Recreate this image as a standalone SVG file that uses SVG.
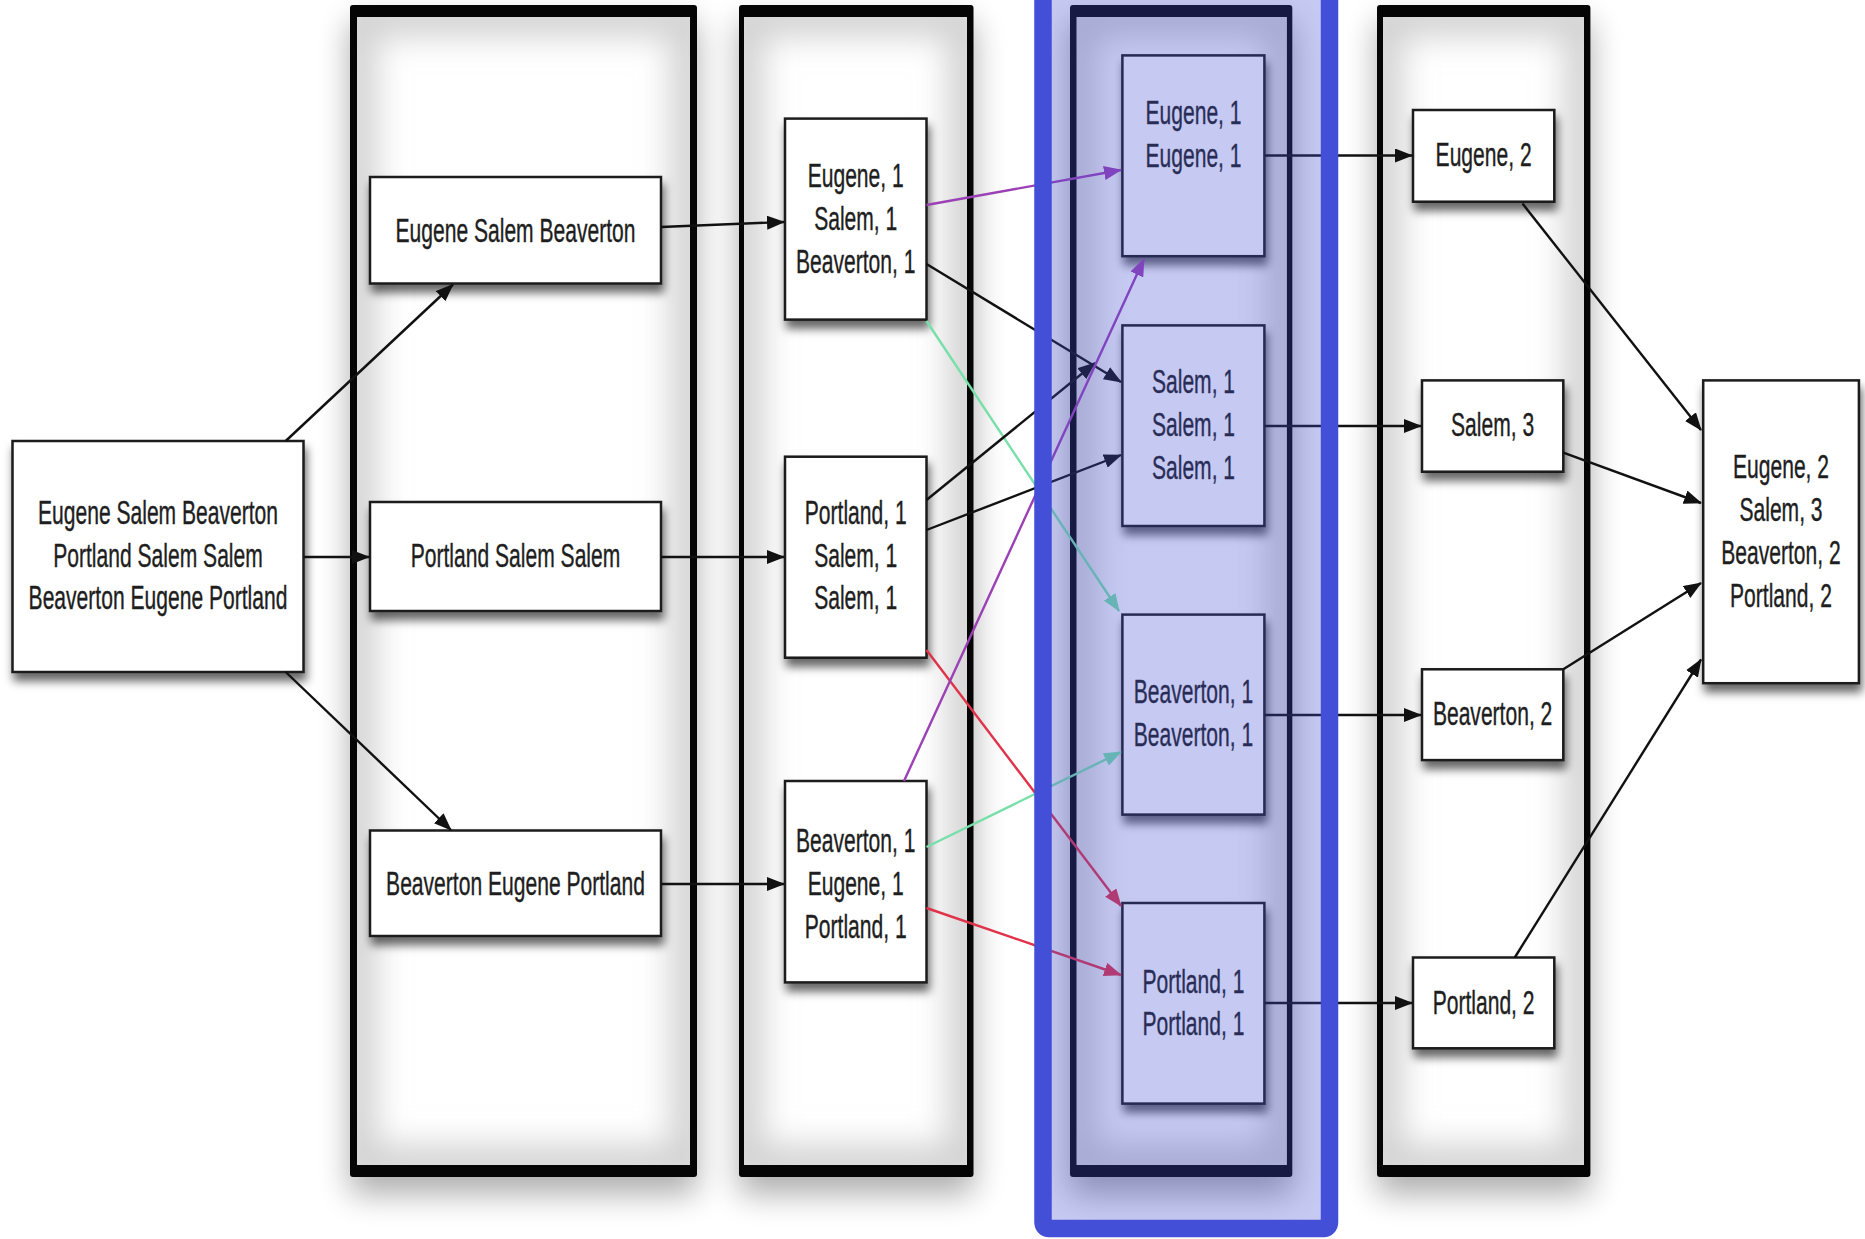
<svg xmlns="http://www.w3.org/2000/svg" width="1865" height="1239" viewBox="0 0 1865 1239">
<defs>
<style>
.box{fill:#fff;stroke:#1a1a1a;stroke-width:2.5}
.t{font-family:"Liberation Sans",Arial,sans-serif;font-size:34px;fill:#1e1e1e;stroke:#1e1e1e;stroke-width:0.4;text-anchor:middle}
.frame{fill:#050505}
.inner{fill:#fff}
.vig{fill:none;stroke:#d2d2d2;stroke-width:40}
.csh{fill:#000;opacity:0.32}
.c{fill:none;stroke:#111;stroke-width:2.4}
.cp{stroke:#9b40b5}
.cg{stroke:#78dfa8}
.cr{stroke:#e0334a}
</style>
<filter id="ns" x="-20%" y="-20%" width="140%" height="160%"><feDropShadow dx="2" dy="8" stdDeviation="5" flood-color="#000" flood-opacity="0.6"/></filter>
<filter id="cs" x="-40%" y="-10%" width="180%" height="130%"><feGaussianBlur stdDeviation="16"/></filter>
<filter id="vg" x="-20%" y="-10%" width="140%" height="120%"><feGaussianBlur stdDeviation="16"/></filter>
<clipPath id="k1"><rect x="357" y="17" width="333" height="1148"/></clipPath>
<clipPath id="k2"><rect x="744" y="17" width="223" height="1148"/></clipPath>
<clipPath id="k3"><rect x="1076.7" y="17" width="210" height="1148"/></clipPath>
<clipPath id="k4"><rect x="1383" y="17" width="201" height="1148"/></clipPath>
<marker id="ak" viewBox="0 0 18 14" refX="17" refY="7" markerWidth="18" markerHeight="14" markerUnits="userSpaceOnUse" orient="auto"><path d="M0,0 L18,7 L0,14 z" fill="#111"/></marker>
<marker id="ap" viewBox="0 0 18 14" refX="17" refY="7" markerWidth="18" markerHeight="14" markerUnits="userSpaceOnUse" orient="auto"><path d="M0,0 L18,7 L0,14 z" fill="#9b40b5"/></marker>
<marker id="ag" viewBox="0 0 18 14" refX="17" refY="7" markerWidth="18" markerHeight="14" markerUnits="userSpaceOnUse" orient="auto"><path d="M0,0 L18,7 L0,14 z" fill="#78dfa8"/></marker>
<marker id="ar" viewBox="0 0 18 14" refX="17" refY="7" markerWidth="18" markerHeight="14" markerUnits="userSpaceOnUse" orient="auto"><path d="M0,0 L18,7 L0,14 z" fill="#e0334a"/></marker>
</defs>
<rect width="1865" height="1239" fill="#fff"/>

<g id="column-split">
<rect class="csh" x="350" y="22" width="347" height="1172" filter="url(#cs)"/>
<rect class="frame" x="350" y="5" width="347" height="1172" rx="3"/>
<rect class="inner" x="357" y="17" width="333" height="1148"/>
<g clip-path="url(#k1)"><rect class="vig" x="357" y="17" width="333" height="1148" filter="url(#vg)"/></g>
</g>
<g id="column-map">
<rect class="csh" x="739" y="22" width="234.5" height="1172" filter="url(#cs)"/>
<rect class="frame" x="739" y="5" width="234.5" height="1172" rx="3"/>
<rect class="inner" x="744" y="17" width="223" height="1148"/>
<g clip-path="url(#k2)"><rect class="vig" x="744" y="17" width="223" height="1148" filter="url(#vg)"/></g>
</g>
<g id="column-shuffle">
<rect class="csh" x="1070" y="22" width="222.3" height="1172" filter="url(#cs)"/>
<rect class="frame" x="1070" y="5" width="222.3" height="1172" rx="3"/>
<rect class="inner" x="1076.7" y="17" width="210" height="1148"/>
<g clip-path="url(#k3)"><rect class="vig" x="1076.7" y="17" width="210" height="1148" filter="url(#vg)"/></g>
</g>
<g id="column-reduce">
<rect class="csh" x="1377" y="22" width="213.4" height="1172" filter="url(#cs)"/>
<rect class="frame" x="1377" y="5" width="213.4" height="1172" rx="3"/>
<rect class="inner" x="1383" y="17" width="201" height="1148"/>
<g clip-path="url(#k4)"><rect class="vig" x="1383" y="17" width="201" height="1148" filter="url(#vg)"/></g>
</g>

<g id="input">
<rect class="box" x="12.5" y="441" width="291" height="231" filter="url(#ns)"/>
<text class="t" transform="translate(158,523.5) scale(0.62,1)">Eugene Salem Beaverton</text>
<text class="t" transform="translate(158,566.5) scale(0.62,1)">Portland Salem Salem</text>
<text class="t" transform="translate(158,609) scale(0.62,1)">Beaverton Eugene Portland</text>
</g>

<g id="split-1">
<rect class="box" x="370" y="177" width="291" height="106.5" filter="url(#ns)"/>
<text class="t" transform="translate(515.5,241.5) scale(0.62,1)">Eugene Salem Beaverton</text>
</g>
<g id="split-2">
<rect class="box" x="370" y="502" width="291" height="109" filter="url(#ns)"/>
<text class="t" transform="translate(515.5,566.5) scale(0.62,1)">Portland Salem Salem</text>
</g>
<g id="split-3">
<rect class="box" x="370" y="830.5" width="291" height="105.5" filter="url(#ns)"/>
<text class="t" transform="translate(515.5,894.5) scale(0.62,1)">Beaverton Eugene Portland</text>
</g>

<g id="map-1">
<rect class="box" x="785" y="118.6" width="141.5" height="201" filter="url(#ns)"/>
<text class="t" transform="translate(855.7,187) scale(0.62,1)">Eugene, 1</text>
<text class="t" transform="translate(855.7,230) scale(0.62,1)">Salem, 1</text>
<text class="t" transform="translate(855.7,272.5) scale(0.62,1)">Beaverton, 1</text>
</g>
<g id="map-2">
<rect class="box" x="785" y="456.7" width="141.5" height="201" filter="url(#ns)"/>
<text class="t" transform="translate(855.7,523.5) scale(0.62,1)">Portland, 1</text>
<text class="t" transform="translate(855.7,566.5) scale(0.62,1)">Salem, 1</text>
<text class="t" transform="translate(855.7,609) scale(0.62,1)">Salem, 1</text>
</g>
<g id="map-3">
<rect class="box" x="785" y="781" width="141.5" height="201.4" filter="url(#ns)"/>
<text class="t" transform="translate(855.7,852) scale(0.62,1)">Beaverton, 1</text>
<text class="t" transform="translate(855.7,894.5) scale(0.62,1)">Eugene, 1</text>
<text class="t" transform="translate(855.7,937.5) scale(0.62,1)">Portland, 1</text>
</g>

<g id="shuffle-eugene">
<rect class="box" x="1122.4" y="55.4" width="142" height="200.8" filter="url(#ns)"/>
<text class="t" transform="translate(1193.5,124) scale(0.62,1)">Eugene, 1</text>
<text class="t" transform="translate(1193.5,167) scale(0.62,1)">Eugene, 1</text>
</g>
<g id="shuffle-salem">
<rect class="box" x="1122.4" y="325.4" width="142" height="200.6" filter="url(#ns)"/>
<text class="t" transform="translate(1193.5,393) scale(0.62,1)">Salem, 1</text>
<text class="t" transform="translate(1193.5,435.5) scale(0.62,1)">Salem, 1</text>
<text class="t" transform="translate(1193.5,478.5) scale(0.62,1)">Salem, 1</text>
</g>
<g id="shuffle-beaverton">
<rect class="box" x="1122.4" y="614.6" width="142" height="200" filter="url(#ns)"/>
<text class="t" transform="translate(1193.5,703) scale(0.62,1)">Beaverton, 1</text>
<text class="t" transform="translate(1193.5,746) scale(0.62,1)">Beaverton, 1</text>
</g>
<g id="shuffle-portland">
<rect class="box" x="1122.4" y="903" width="142" height="200.6" filter="url(#ns)"/>
<text class="t" transform="translate(1193.5,992.5) scale(0.62,1)">Portland, 1</text>
<text class="t" transform="translate(1193.5,1035) scale(0.62,1)">Portland, 1</text>
</g>

<g id="reduce-eugene">
<rect class="box" x="1413" y="110" width="141.3" height="91.7" filter="url(#ns)"/>
<text class="t" transform="translate(1483.6,165.5) scale(0.62,1)">Eugene, 2</text>
</g>
<g id="reduce-salem">
<rect class="box" x="1422" y="380.4" width="141.3" height="91.3" filter="url(#ns)"/>
<text class="t" transform="translate(1492.6,435.5) scale(0.62,1)">Salem, 3</text>
</g>
<g id="reduce-beaverton">
<rect class="box" x="1422" y="669.3" width="141.3" height="90.8" filter="url(#ns)"/>
<text class="t" transform="translate(1492.6,724.5) scale(0.62,1)">Beaverton, 2</text>
</g>
<g id="reduce-portland">
<rect class="box" x="1413" y="957.5" width="141.3" height="90.8" filter="url(#ns)"/>
<text class="t" transform="translate(1483.6,1013.5) scale(0.62,1)">Portland, 2</text>
</g>

<g id="output">
<rect class="box" x="1703.2" y="380.4" width="155.7" height="302.8" filter="url(#ns)"/>
<text class="t" transform="translate(1781,478) scale(0.62,1)">Eugene, 2</text>
<text class="t" transform="translate(1781,521) scale(0.62,1)">Salem, 3</text>
<text class="t" transform="translate(1781,564) scale(0.62,1)">Beaverton, 2</text>
<text class="t" transform="translate(1781,607) scale(0.62,1)">Portland, 2</text>
</g>

<g id="connectors">
<path class="c" marker-end="url(#ak)" d="M285.7,441 L453,284.5"/>
<path class="c" marker-end="url(#ak)" d="M303.5,557 L369,557"/>
<path class="c" marker-end="url(#ak)" d="M285.7,672 L451,830"/>
<path class="c" marker-end="url(#ak)" d="M661,227 L784,222"/>
<path class="c" marker-end="url(#ak)" d="M661,557 L784,557"/>
<path class="c" marker-end="url(#ak)" d="M661,884 L784,884"/>
<path class="c cp" marker-end="url(#ap)" d="M926.5,205 L1121,170"/>
<path class="c" marker-end="url(#ak)" d="M926.5,264 L1121,382"/>
<path class="c cg" marker-end="url(#ag)" d="M926.5,321 L1119,611"/>
<path class="c" marker-end="url(#ak)" d="M926.5,500 L1095,363"/>
<path class="c" marker-end="url(#ak)" d="M926.5,530 L1121,455"/>
<path class="c cr" marker-end="url(#ar)" d="M926.5,650 L1121,906"/>
<path class="c cp" marker-end="url(#ap)" d="M904,781 L1144,259"/>
<path class="c cg" marker-end="url(#ag)" d="M926.5,847 L1121,752"/>
<path class="c cr" marker-end="url(#ar)" d="M926.5,908 L1121,975"/>
<path class="c" marker-end="url(#ak)" d="M1264.5,155.5 L1412,155.5"/>
<path class="c" marker-end="url(#ak)" d="M1264.5,426 L1421,426"/>
<path class="c" marker-end="url(#ak)" d="M1264.5,715 L1421,715"/>
<path class="c" marker-end="url(#ak)" d="M1264.5,1003 L1412,1003"/>
<path class="c" marker-end="url(#ak)" d="M1522.5,203.6 L1701,430"/>
<path class="c" marker-end="url(#ak)" d="M1563.3,452.7 L1701,503"/>
<path class="c" marker-end="url(#ak)" d="M1563.3,669.3 L1701,583"/>
<path class="c" marker-end="url(#ak)" d="M1514.8,957.5 L1701,659.5"/>
</g>

<g id="highlight">
<rect x="1043" y="-40" width="286.5" height="1268.5" rx="6" fill="#434fd6" fill-opacity="0.3" stroke="#434fd6" stroke-width="17.5"/>
</g>
</svg>
